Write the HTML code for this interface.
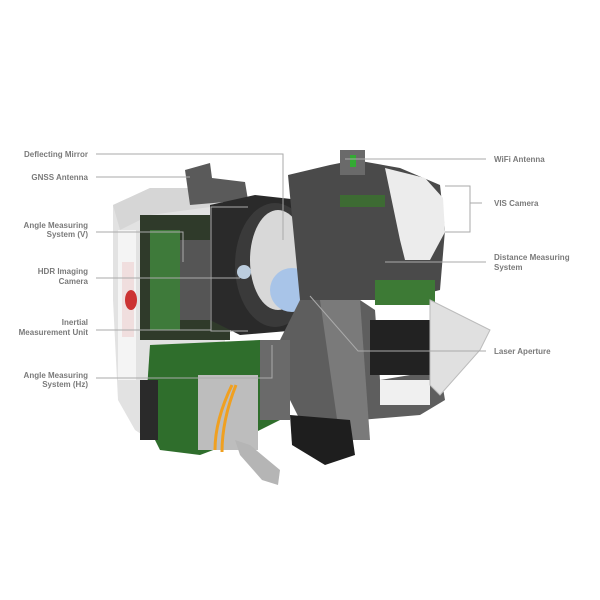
<!DOCTYPE html>
<html><head><style>
html,body{margin:0;padding:0;background:#fff;}
svg{display:block}
text{font-family:"Liberation Sans",sans-serif;font-size:8px;font-weight:bold;fill:#7a7a7a}
</style></head><body>
<svg width="600" height="600" viewBox="0 0 600 600" xmlns="http://www.w3.org/2000/svg">
<!-- left housing -->
<polygon points="113,205 150,188 205,188 225,205 225,420 150,440 135,430 118,400 113,300" fill="#e2e2e2"/>
<polygon points="113,205 150,188 205,188 225,205 150,215 120,230" fill="#d6d6d6"/>
<rect x="118" y="230" width="18" height="150" fill="#f4f4f4"/>
<rect x="122" y="262" width="12" height="75" fill="#f0dede"/>
<ellipse cx="131" cy="300" rx="6" ry="10" fill="#c33"/>
<!-- GNSS antenna -->
<polygon points="185,170 210,163 212,178 245,182 248,200 190,205" fill="#5a5a5a"/>
<!-- left interior -->
<rect x="140" y="215" width="90" height="125" fill="#2f3a2a"/>
<rect x="150" y="230" width="30" height="100" fill="#3e7a3a"/>
<rect x="180" y="240" width="40" height="80" fill="#555"/>
<!-- mirror/optics -->
<polygon points="210,205 255,195 300,200 300,330 240,335 210,320" fill="#2a2a2a"/>
<ellipse cx="275" cy="265" rx="40" ry="62" fill="#3a3a3a"/>
<ellipse cx="278" cy="260" rx="28" ry="50" fill="#d8d8d8"/>
<ellipse cx="292" cy="290" rx="22" ry="22" fill="#a8c4e8"/>
<circle cx="244" cy="272" r="7" fill="#bcd"/>
<!-- right housing -->
<polygon points="288,175 330,165 355,160 400,168 440,185 445,230 440,290 420,295 410,300 300,300" fill="#4a4a4a"/>
<polygon points="385,168 425,178 443,198 445,232 430,260 405,260 400,240" fill="#ececec"/>
<rect x="340" y="150" width="25" height="25" fill="#6a6a6a"/>
<rect x="350" y="155" width="6" height="12" fill="#3a3"/>
<rect x="340" y="195" width="45" height="12" fill="#3d6b33"/>
<rect x="375" y="280" width="60" height="25" fill="#3d7a35"/>
<!-- right lower body -->
<polygon points="300,300 360,300 375,310 380,380 440,370 445,400 420,415 360,420 330,430 300,420 270,360" fill="#5e5e5e"/>
<polygon points="320,300 360,300 370,440 340,440" fill="#7a7a7a"/>
<rect x="370" y="320" width="65" height="55" fill="#222"/>
<rect x="380" y="380" width="50" height="25" fill="#f0f0f0"/>
<polygon points="430,300 490,330 480,350 440,395 430,385" fill="#e0e0e0" stroke="#bbb"/>
<!-- bottom cylinder -->
<polygon points="290,415 350,420 355,455 325,465 292,445" fill="#1e1e1e"/>
<!-- bottom PCB -->
<polygon points="150,345 260,340 275,350 280,420 240,440 200,455 160,450 145,420" fill="#2f6e2c"/>
<rect x="198" y="375" width="60" height="75" fill="#bdbdbd"/>
<rect x="140" y="380" width="18" height="60" fill="#2a2a2a"/>
<path d="M232,385 Q215,420 215,450" stroke="#f0a020" stroke-width="3" fill="none"/>
<path d="M236,385 Q222,420 222,452" stroke="#f0a020" stroke-width="3" fill="none"/>
<polygon points="235,440 250,445 280,470 278,485 262,480 240,455" fill="#b5b5b5"/>
<rect x="260" y="340" width="30" height="80" fill="#6a6a6a"/>
<!-- leader lines -->
<g stroke="#aaa" stroke-width="1" fill="none">
<polyline points="96,154 283,154 283,240"/>
<line x1="96" y1="177" x2="190" y2="177"/>
<polyline points="96,232 183,232 183,262"/>
<line x1="96" y1="278" x2="240" y2="278"/>
<polyline points="96,330 211,330"/>
<polyline points="248,207 211,207 211,331 248,331"/>
<polyline points="96,378 272,378 272,345"/>
<line x1="345" y1="159" x2="486" y2="159"/>
<polyline points="445,186 470,186 470,232 445,232"/>
<line x1="470" y1="203" x2="482" y2="203"/>
<line x1="385" y1="262" x2="486" y2="262"/>
<polyline points="486,351 358,351 310,296"/>
</g>
<!-- labels -->
<g text-anchor="end">
<text x="88" y="157">Deflecting Mirror</text>
<text x="88" y="180">GNSS Antenna</text>
<text x="88" y="228">Angle Measuring</text>
<text x="88" y="237">System (V)</text>
<text x="88" y="274">HDR Imaging</text>
<text x="88" y="284">Camera</text>
<text x="88" y="325">Inertial</text>
<text x="88" y="335">Measurement Unit</text>
<text x="88" y="378">Angle Measuring</text>
<text x="88" y="387">System (Hz)</text>
</g>
<text x="494" y="162">WiFi Antenna</text>
<text x="494" y="206">VIS Camera</text>
<text x="494" y="260">Distance Measuring</text>
<text x="494" y="270">System</text>
<text x="494" y="354">Laser Aperture</text>
</svg>
</body></html>
